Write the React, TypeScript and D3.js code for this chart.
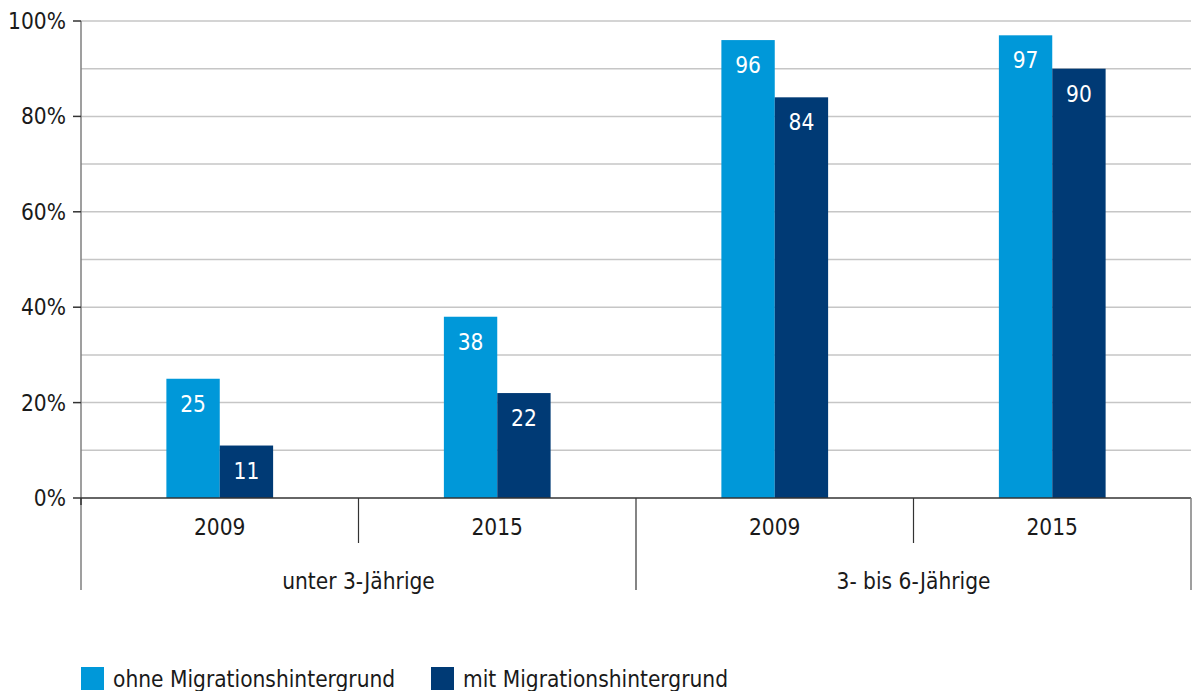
import React from "react";
import * as d3 from "d3";

const categories = ["2009", "2015", "2009", "2015"];
const groups = ["unter 3-Jährige", "3- bis 6-Jährige"];
const seriesNames = ["ohne Migrationshintergrund", "mit Migrationshintergrund"];
const ohne = [25, 38, 96, 97];
const mit = [11, 22, 84, 90];
const yTicks = [0, 20, 40, 60, 80, 100];
const gridValues = [10, 20, 30, 40, 50, 60, 70, 80, 90, 100];

const COLORS = ["#0098d9", "#003a75"];
const FONT = "'DejaVu Sans Condensed', 'Liberation Sans Narrow', sans-serif";
const FS = 22.5;

export default function App() {
  const W = 1192, H = 691;
  const left = 81, right = 1191, top = 21, bottom = 498;
  const x0 = d3.scaleBand<number>().domain(d3.range(categories.length)).range([left, right]).padding(0);
  const x1 = d3.scaleBand<number>().domain([0, 1]).range([0, x0.bandwidth()]).paddingInner(0).paddingOuter(1.6);
  const y = d3.scaleLinear().domain([0, 100]).range([bottom, top]);
  const series = [ohne, mit];
  const bw = x0.bandwidth();

  return (
    <svg width={W} height={H} style={{ position: "absolute", left: 0, top: 0 }} fontFamily={FONT}>
      {gridValues.map((v) => (
        <line key={v} x1={left} x2={right} y1={y(v)} y2={y(v)} stroke="#c6c6c6" strokeWidth={1.5} />
      ))}
      {series.map((vals, si) =>
        vals.map((v, ci) => (
          <rect key={`${si}-${ci}`} x={x0(ci)! + x1(si)!} y={y(v)} width={x1.bandwidth()} height={bottom - y(v)} fill={COLORS[si]} />
        ))
      )}
      {series.map((vals, si) =>
        vals.map((v, ci) => (
          <text key={`t${si}-${ci}`} x={x0(ci)! + x1(si)! + x1.bandwidth() / 2} y={y(v) + 33} textAnchor="middle" fill="#fff" fontSize={FS}>
            {v}
          </text>
        ))
      )}
      <line x1={left} x2={left} y1={top} y2={590} stroke="#7f7f7f" strokeWidth={1.5} />
      {yTicks.map((t) => (
        <g key={t}>
          <line x1={73} x2={left} y1={y(t)} y2={y(t)} stroke="#333" strokeWidth={1.5} />
          <text x={66} y={y(t) + 8} textAnchor="end" fontSize={FS} fill="#1a1a1a">{t}%</text>
        </g>
      ))}
      <line x1={left} x2={left} y1={bottom} y2={505} stroke="#333" strokeWidth={1.5} />
      <line x1={left} x2={right} y1={bottom} y2={bottom} stroke="#333" strokeWidth={1.5} />
      {[1, 3].map((i) => (
        <line key={i} x1={x0(i)!} x2={x0(i)!} y1={bottom} y2={543} stroke="#333" strokeWidth={1.2} />
      ))}
      {[2].map((i) => (
        <line key={i} x1={x0(i)!} x2={x0(i)!} y1={bottom} y2={590} stroke="#333" strokeWidth={1.2} />
      ))}
      <line x1={right} x2={right} y1={bottom} y2={590} stroke="#7f7f7f" strokeWidth={1.5} />
      {categories.map((c, i) => (
        <text key={i} x={x0(i)! + bw / 2} y={535} textAnchor="middle" fontSize={FS} fill="#1a1a1a">{c}</text>
      ))}
      {groups.map((g, gi) => (
        <text key={g} x={x0(gi * 2)! + bw} y={589} textAnchor="middle" fontSize={FS} fill="#1a1a1a">{g}</text>
      ))}
      {seriesNames.map((s, i) => {
        const lx = [81, 431][i];
        return (
          <g key={s}>
            <rect x={lx} y={667} width={23} height={23} fill={COLORS[i]} />
            <text x={lx + 32} y={687} fontSize={FS} fill="#1a1a1a">{s}</text>
          </g>
        );
      })}
    </svg>
  );
}
